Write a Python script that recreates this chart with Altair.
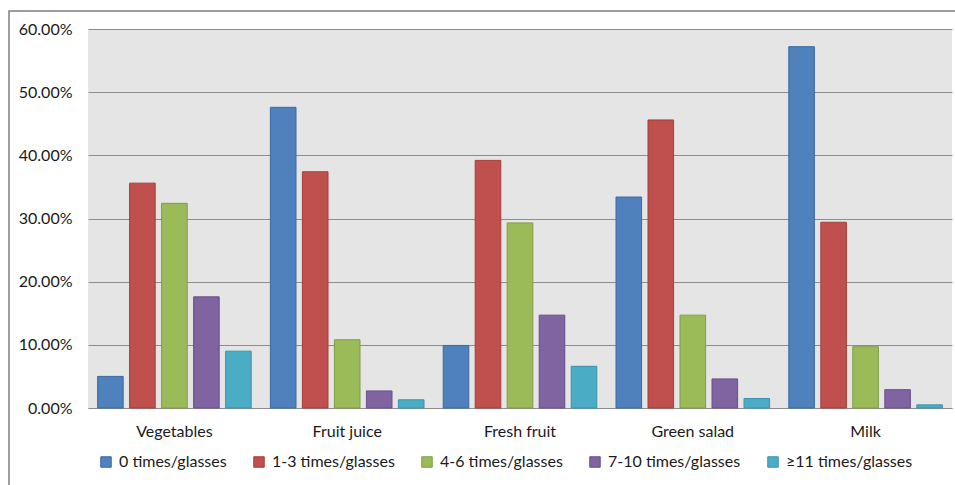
import altair as alt
import pandas as pd

foods = ["Vegetables", "Fruit juice", "Fresh fruit", "Green salad", "Milk"]
series = ["0 times/glasses", "1-3 times/glasses", "4-6 times/glasses",
          "7-10 times/glasses", "\u226511 times/glasses"]

# share of respondents per food, one list per frequency band
zero_times = [0.050, 0.476, 0.099, 0.334, 0.572]
one_to_three = [0.356, 0.374, 0.392, 0.456, 0.294]
four_to_six = [0.324, 0.108, 0.293, 0.147, 0.097]
seven_to_ten = [0.176, 0.027, 0.147, 0.046, 0.029]
eleven_plus = [0.090, 0.013, 0.066, 0.015, 0.005]

fills = ["#4f81bd", "#c0504d", "#9bbb59", "#8064a2", "#4bacc6"]
edges = ["#3d6aa0", "#a33e3b", "#7f9c45", "#66508a", "#3a93ab"]

rows = []
for name, vals in zip(series, [zero_times, one_to_three, four_to_six,
                               seven_to_ten, eleven_plus]):
    for food, v in zip(foods, vals):
        rows.append({"food": food, "series": name, "value": v})
df = pd.DataFrame(rows)

FONT = "Lato"

legend = alt.Legend(
    title=None, orient="none", direction="horizontal", columns=5,
    legendX=10, legendY=425, symbolType="square", symbolSize=110,
    symbolStrokeWidth=1, labelFontSize=16, labelFont=FONT,
    labelColor="#1a1a1a", labelOffset=5, columnPadding=24,
)

bars = alt.Chart(df).mark_bar(strokeWidth=1).encode(
    x=alt.X("food:N", sort=foods, title=None,
            scale=alt.Scale(paddingInner=0, paddingOuter=0),
            axis=alt.Axis(labelAngle=0, ticks=False, domainColor="#8c8c8c",
                          labelFontSize=16, labelFont=FONT,
                          labelColor="#1a1a1a", labelPadding=15, grid=False)),
    xOffset=alt.XOffset("series:N", sort=series,
                        scale=alt.Scale(paddingInner=0.2, paddingOuter=0.3)),
    y=alt.Y("value:Q", title=None,
            scale=alt.Scale(domain=[0, 0.6], nice=False),
            axis=alt.Axis(format=".2%", values=[0, 0.1, 0.2, 0.3, 0.4, 0.5, 0.6],
                          domain=False, ticks=False, gridColor="#8c8c8c",
                          gridWidth=1, labelFontSize=16, labelFont=FONT,
                          labelColor="#1a1a1a", labelPadding=16)),
    color=alt.Color("series:N", sort=series,
                    scale=alt.Scale(domain=series, range=fills), legend=legend),
    stroke=alt.Stroke("series:N", sort=series,
                      scale=alt.Scale(domain=series, range=edges), legend=legend),
)

frame = alt.Chart(pd.DataFrame({"k": [0]})).mark_rect(
    fillOpacity=0, stroke="#7f7f7f", strokeWidth=1.5
).encode(
    x=alt.value(-79), x2=alt.value(870), y=alt.value(-18), y2=alt.value(480)
)

chart = alt.layer(frame, bars).properties(
    width=864, height=379,
    autosize=alt.AutoSizeParams(type="none"),
    padding={"left": 88, "top": 29, "right": 3, "bottom": 77},
    background="white",
).configure_view(fill="#e5e5e5", stroke=None)

chart.save("out.html", embed_options={"renderer": "svg", "actions": False})
